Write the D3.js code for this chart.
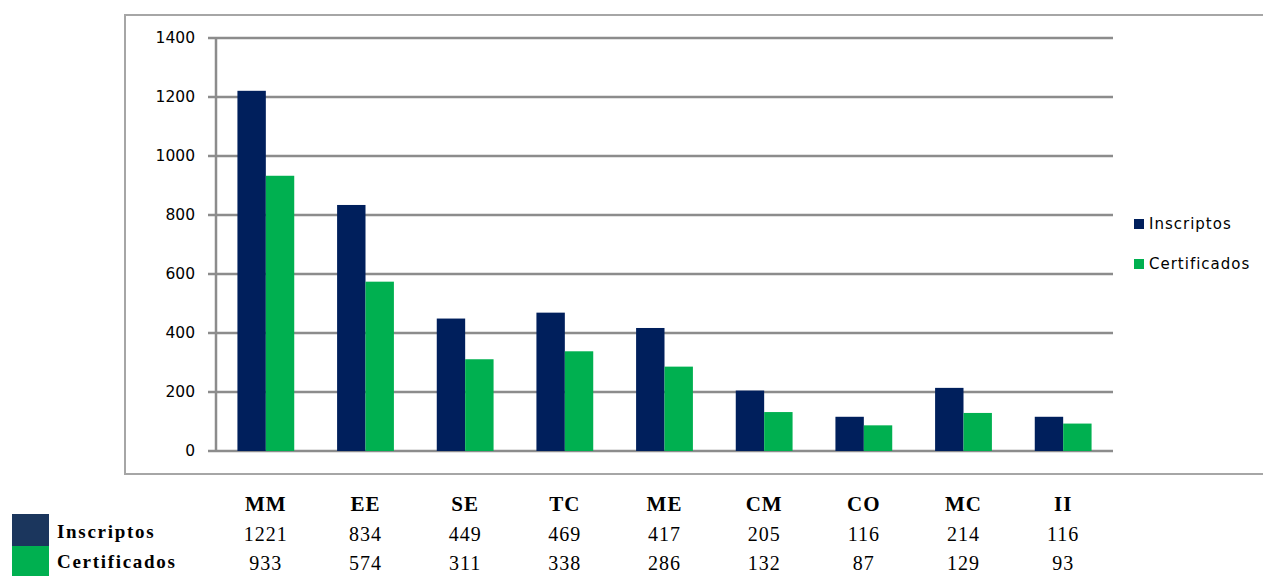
<!DOCTYPE html>
<html><head><meta charset="utf-8">
<script src="https://cdn.jsdelivr.net/npm/d3@7"></script>
<style>body{margin:0;background:#fff;} svg{display:block;}</style>
</head><body>
<svg id="chart" width="1263" height="576"></svg>
<script>
const categories = ["MM","EE","SE","TC","ME","CM","CO","MC","II"];
const seriesNames = ["Inscriptos","Certificados"];
const inscriptos = [1221,834,449,469,417,205,116,214,116];
const certificados = [933,574,311,338,286,132,87,129,93];
const yTicks = [0,200,400,600,800,1000,1200,1400];
const colors = ["#001f5c","#00b050"];
const tableColors = ["#1b365d","#00b050"];

const svg = d3.select("#chart");
const pLeft = 216, pRight = 1113, pTop = 38, pBottom = 451;

// outer frame
svg.append("rect").attr("x",125).attr("y",15).attr("width",1150).attr("height",459)
  .attr("fill","none").attr("stroke","#a6a6a6").attr("stroke-width",2);

const x0 = d3.scaleBand().domain(categories).range([pLeft,pRight]).paddingInner(0.43).paddingOuter(0.215);
const x1 = d3.scaleBand().domain(seriesNames).range([0,x0.bandwidth()]);
const y = d3.scaleLinear().domain([0,1400]).range([pBottom,pTop]);

// gridlines
svg.append("g").selectAll("line").data(yTicks).join("line")
  .attr("x1",208).attr("x2",pRight).attr("y1",d=>y(d)).attr("y2",d=>y(d))
  .attr("stroke","#8c8c8c").attr("stroke-width",2.5);
// y axis line
svg.append("line").attr("x1",pLeft).attr("x2",pLeft).attr("y1",pTop).attr("y2",pBottom)
  .attr("stroke","#8c8c8c").attr("stroke-width",2.5);

// y labels
svg.append("g").selectAll("text").data(yTicks).join("text")
  .attr("x",195).attr("y",d=>y(d)).attr("dy","0.35em").attr("text-anchor","end")
  .attr("font-family","DejaVu Sans, sans-serif").attr("font-size",15.5).attr("fill","#000")
  .text(d=>d);

const data = categories.map((c,i)=>({cat:c, vals:[inscriptos[i],certificados[i]]}));
const g = svg.append("g");
data.forEach(d=>{
  g.selectAll(null).data(d.vals.map((v,j)=>({v,j}))).join("rect")
    .attr("x",e=>x0(d.cat)+x1(seriesNames[e.j]))
    .attr("y",e=>y(e.v))
    .attr("width",x1.bandwidth())
    .attr("height",e=>y(0)-y(e.v))
    .attr("fill",e=>colors[e.j]);
});

// right legend
const lg = svg.append("g");
seriesNames.forEach((s,i)=>{
  const yy = 224 + i*40;
  lg.append("rect").attr("x",1134).attr("y",yy-5).attr("width",10).attr("height",10).attr("fill",colors[i]);
  lg.append("text").attr("x",1149).attr("y",yy).attr("dy","0.35em")
    .attr("font-family","DejaVu Sans, sans-serif").attr("font-size",15).attr("letter-spacing","1px")
    .attr("fill","#000").text(s);
});

// data table
const tg = svg.append("g").attr("font-family","Liberation Serif, serif").attr("font-size",21).attr("fill","#000");
tg.selectAll("text.cat").data(categories).join("text").attr("class","cat")
  .attr("x",c=>x0(c)+x0.bandwidth()/2).attr("y",511).attr("text-anchor","middle")
  .attr("font-weight","bold").attr("letter-spacing","1px").text(c=>c);
[inscriptos,certificados].forEach((arr,j)=>{
  tg.selectAll(null).data(arr).join("text")
    .attr("x",(v,i)=>x0(categories[i])+x0.bandwidth()/2).attr("y",541+j*29).attr("text-anchor","middle")
    .attr("font-size",20).attr("letter-spacing","1px").text(v=>v);
  svg.append("rect").attr("x",12).attr("y",514+j*32).attr("width",37).attr("height",j===0?32:30).attr("fill",tableColors[j]);
  tg.append("text").attr("x",57).attr("y",538+j*30).attr("font-weight","bold").attr("letter-spacing","1.7px")
    .attr("font-size",19).text(seriesNames[j]);
});
</script>
</body></html>
